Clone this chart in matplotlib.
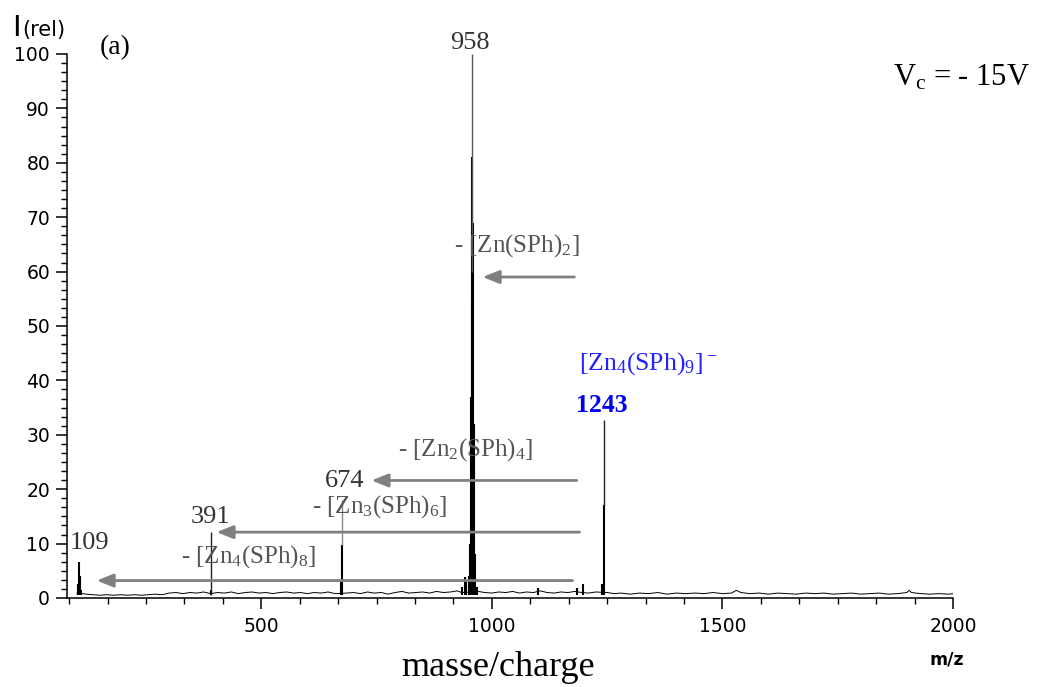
import matplotlib.pyplot as plt
import numpy as np
from matplotlib.ticker import MultipleLocator, AutoMinorLocator

plt.rcParams['mathtext.fontset'] = 'custom'
plt.rcParams['mathtext.rm'] = 'Liberation Serif'
plt.rcParams['mathtext.it'] = 'Liberation Serif'
plt.rcParams['mathtext.bf'] = 'Liberation Serif:bold'
plt.rcParams['mathtext.default'] = 'rm'

# baseline (noise) of the spectrum
base_mz = [100, 112, 120, 135, 150, 165, 180, 195, 210, 225,
           240, 255, 270, 285, 300, 315, 330, 345, 360, 375,
           390, 405, 420, 435, 450, 465, 480, 495, 510, 525,
           540, 555, 570, 585, 600, 615, 630, 645, 660, 685,
           700, 715, 730, 745, 760, 775, 790, 805, 820, 835,
           850, 865, 880, 895, 910, 925, 935, 970, 985, 1000,
           1015, 1030, 1045, 1060, 1075, 1090, 1105, 1120, 1135, 1150,
           1165, 1180, 1195, 1210, 1225, 1250, 1265, 1280, 1300, 1320,
           1340, 1360, 1380, 1400, 1420, 1440, 1460, 1480, 1500, 1520,
           1530, 1540, 1560, 1580, 1600, 1620, 1640, 1660, 1680, 1700,
           1720, 1740, 1760, 1780, 1800, 1820, 1840, 1860, 1880, 1900,
           1905, 1910, 1930, 1950, 1970, 1990, 2000]
base_int = [0.9, 0.8, 0.7, 0.6, 0.5, 0.6, 0.5, 0.6, 0.5, 0.6,
            0.5, 0.6, 0.7, 0.6, 0.9, 1.0, 0.8, 1.0, 0.9, 1.1,
            0.8, 1.0, 0.9, 1.1, 0.8, 1.0, 1.1, 0.9, 1.0, 0.8,
            1.0, 1.1, 0.9, 1.0, 0.8, 1.0, 0.9, 1.1, 0.8, 0.9,
            1.0, 0.8, 1.1, 0.9, 1.0, 0.7, 1.0, 1.2, 0.9, 1.0,
            1.1, 0.9, 1.2, 1.0, 1.1, 1.3, 1.0, 1.2, 1.0, 0.9,
            1.1, 1.0, 1.2, 0.9, 1.1, 1.0, 1.3, 1.0, 0.9, 1.1,
            1.0, 1.2, 1.0, 0.9, 1.1, 1.0, 0.8, 0.9, 0.7, 0.9,
            0.8, 1.0, 0.7, 0.9, 0.8, 0.9, 0.8, 1.0, 0.8, 0.9,
            1.4, 1.0, 0.8, 0.9, 0.7, 0.9, 0.8, 0.7, 0.9, 0.8,
            0.9, 0.7, 0.8, 0.9, 0.7, 0.8, 0.9, 0.7, 0.8, 1.0,
            1.4, 1.0, 0.8, 0.7, 0.8, 0.7, 0.8]

# peaks (sticks)
peak_mz = [103, 105, 107, 110, 391, 672, 674, 935, 941, 944,
           950, 952, 954, 956, 958, 960, 962, 964, 968, 1100,
           1185, 1197, 1238, 1243]
peak_int = [2.5, 6.6, 4.0, 1.5, 1.5, 3.0, 9.7, 2.0, 3.8, 3.0,
            4.0, 10.0, 37.0, 55.0, 81.0, 69.0, 32.0, 8.0, 2.0, 1.8,
            1.8, 2.5, 2.5, 17.0]

# leader lines above labelled peaks
lead_mz = [391, 674, 958, 1243]
lead_lo = [0.6, 9.7, 60.0, 17.0]
lead_hi = [12.1, 18.0, 100.0, 32.7]
lead_col = ['#222222', '#888888', '#555555', '#222222']

# peak labels
lab_text = ['109', '391', '674', '958']
lab_x = [127, 390, 681, 952]
lab_y = [8.0, 12.8, 19.4, 100.0]

# losses (arrows)
loss_text = [r'- [Zn(SPh)$_2$]', r'- [Zn$_2$(SPh)$_4$]',
             r'- [Zn$_3$(SPh)$_6$]', r'- [Zn$_4$(SPh)$_8$]']
loss_tail = [1179, 1184, 1190, 1175]
loss_head = [980, 739, 403, 143]
loss_y = [59.0, 21.6, 12.1, 3.2]
loss_tx = [918, 796, 610, 326]
loss_ty = [62.3, 24.9, 14.4, 5.2]

fig = plt.figure(figsize=(10.39, 6.87), dpi=100)
ax = fig.add_axes([0.0642, 0.1296, 0.853, 0.7918])

ax.plot(base_mz, base_int, color='black', lw=0.7)
ax.vlines(peak_mz, 0.6, peak_int, color='black', lw=1.5)
for m, lo, hi, c in zip(lead_mz, lead_lo, lead_hi, lead_col):
    ax.vlines(m, lo, hi, color=c, lw=1.0)

for t, x, y in zip(lab_text, lab_x, lab_y):
    ax.text(x, y, t, ha='center', va='bottom', fontsize=19,
            family='Liberation Serif', color='#333333', clip_on=False)

for t, a, b, y, tx, ty in zip(loss_text, loss_tail, loss_head, loss_y, loss_tx, loss_ty):
    ax.annotate('', xy=(b, y), xytext=(a, y),
                arrowprops=dict(arrowstyle='-|>,head_length=1.0,head_width=0.4',
                                color='#808080', lw=2, shrinkA=0, shrinkB=0))
    ax.text(tx, ty, t, ha='left', va='bottom', fontsize=18,
            family='Liberation Serif', color='#555555')

ax.text(1238, 33.2, '1243', ha='center', va='bottom', fontsize=18.5,
        family='Liberation Serif', weight='bold', color='#0000ee')
ax.text(1190, 40.6, r'[Zn$_4$(SPh)$_9$]$^-$', ha='left', va='bottom', fontsize=18.5,
        family='Liberation Serif', color='#2222ff')

ax.set_xlim(78, 2000)
ax.set_ylim(0, 100)
ax.xaxis.set_major_locator(MultipleLocator(500))
ax.xaxis.set_minor_locator(AutoMinorLocator(6))
ax.yaxis.set_major_locator(MultipleLocator(10))
ax.yaxis.set_minor_locator(AutoMinorLocator(6))
ax.tick_params(which='major', length=8, width=1.1, labelsize=13.5, pad=4)
ax.tick_params(which='minor', length=4, width=1.0)
ax.tick_params(axis='x', pad=6)
for lbl in ax.get_xticklabels() + ax.get_yticklabels():
    lbl.set_family('DejaVu Sans')
ax.spines['top'].set_visible(False)
ax.spines['right'].set_visible(False)
ax.spines['left'].set_linewidth(1.1)
ax.spines['bottom'].set_linewidth(1.1)

fig.text(0.012, 1 - 36 / 687, 'I', fontsize=21, family='DejaVu Sans', va='baseline')
fig.text(0.021, 1 - 36 / 687, '(rel)', fontsize=15, family='DejaVu Sans', va='baseline')
fig.text(0.096, 1 - 48 / 687, '(a)', fontsize=20, family='Liberation Serif', va='center')
fig.text(1030 / 1039, 1 - 78 / 687, r'V$_c$ = - 15V', fontsize=22,
         family='Liberation Serif', ha='right', va='center')
fig.text(0.479, 1 - 667 / 687, 'masse/charge', fontsize=26,
         family='Liberation Serif', ha='center', va='center')
fig.text(0.911, 1 - 660 / 687, 'm/z', fontsize=12.5, weight='bold',
         family='DejaVu Sans', ha='center', va='center')

fig.savefig('out.png', dpi=100)
